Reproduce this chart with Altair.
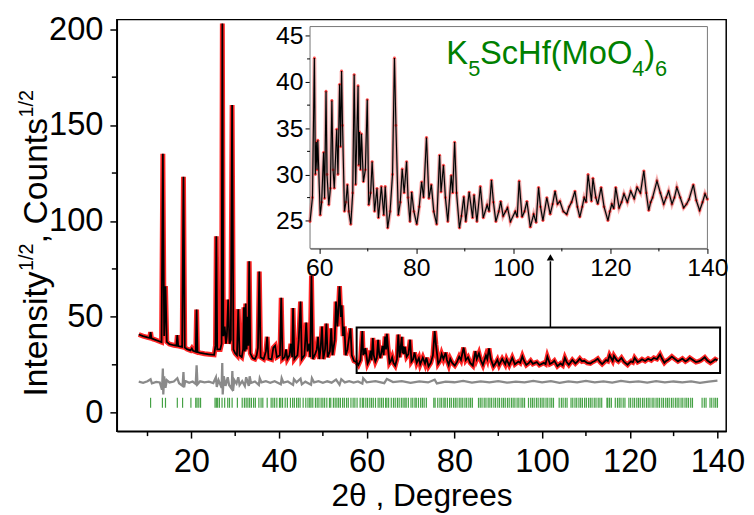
import altair as alt
import pandas as pd

FONT = "Liberation Sans"

# ---- main pattern 8-58 deg (2theta, sqrt intensity)
low_x = [8.0, 9.0, 10.0, 10.5, 10.7, 10.9, 11.5, 12.5, 13.2, 13.5, 13.8, 14.1, 14.4, 15.0, 16.0, 16.6, 16.8, 17.0,
         17.9, 18.2, 18.5, 19.0, 19.8, 20.1, 20.4, 21.0, 21.2, 21.4, 22.0, 23.0, 24.0, 25.2, 25.5, 25.7, 25.9, 26.6,
         26.9, 27.07, 27.3, 27.6, 27.9, 28.1, 28.4, 28.7, 29.0, 29.3, 29.6, 30.0, 30.4, 30.7, 31.0, 31.5, 31.8, 32.0,
         32.2, 32.4, 32.6, 32.8, 33.0, 33.2, 33.45, 34.0, 34.5, 34.9, 35.2, 35.5, 35.8, 36.5, 37.0, 37.3, 37.6, 38.3,
         38.7, 39.1, 39.5, 40.2, 40.5, 40.8, 41.3, 41.6, 41.9, 42.4, 42.7, 43.0, 43.2, 43.5, 44.2, 44.5, 44.9, 45.2,
         45.8, 46.2, 46.5, 46.9, 47.1, 47.4, 47.7, 48.3, 48.6, 48.9, 49.2, 49.5, 49.8, 50.1, 50.5, 50.8, 51.1, 51.6,
         51.9, 52.2, 52.7, 53.0, 53.3, 53.5, 53.8, 54.1, 54.3, 54.6, 54.9, 55.2, 55.6, 55.9, 56.3, 56.6, 57.1, 57.6]
low_y = [40.8, 40.0, 39.3, 39.0, 42.0, 38.8, 38.3, 37.4, 36.8, 135.0, 40.0, 66.0, 37.0, 35.8, 35.2, 35.0, 40.5, 34.8,
         34.3, 123.0, 34.0, 33.2, 32.5, 33.5, 32.3, 31.8, 53.8, 31.6, 31.2, 30.8, 30.5, 30.2, 35.0, 92.0, 33.0, 33.0,
         36.0, 203.0, 40.0, 45.0, 36.0, 40.0, 59.0, 36.0, 38.0, 160.5, 33.0, 31.0, 30.0, 54.0, 30.0, 29.0, 33.0, 55.0,
         32.0, 57.0, 33.0, 50.0, 35.0, 79.0, 31.0, 28.5, 28.0, 30.0, 34.0, 73.6, 29.0, 28.0, 32.0, 39.6, 28.3, 27.8,
         34.0, 35.0, 29.0, 30.0, 60.0, 28.0, 29.0, 33.0, 28.0, 30.0, 36.0, 29.0, 54.6, 28.0, 30.0, 38.0, 58.0, 28.0,
         30.0, 47.0, 32.0, 36.0, 29.0, 71.5, 28.0, 31.0, 33.0, 39.6, 28.0, 34.0, 45.0, 28.0, 33.0, 46.5, 29.0, 32.0,
         44.0, 30.0, 38.0, 58.0, 45.0, 52.0, 66.0, 50.0, 56.0, 40.0, 45.0, 30.0, 33.0, 38.0, 44.0, 30.0, 27.0, 26.5]

# ---- detail 58-140 deg (also shown in the inset), (2theta, sqrt intensity) pairs
hi_pts = [
    (58.1, 24.9), (58.6, 27.5), (59.0, 42.6), (59.2, 30.0), (59.4, 33.5), (59.55, 30.5), (59.7, 33.7), (60.2, 25.6),
    (60.5, 27.0), (60.9, 32.4), (61.1, 27.4), (61.4, 39.0), (61.6, 30.0), (61.97, 26.7), (62.3, 28.5), (62.6, 38.0),
    (62.85, 30.5), (63.1, 28.5), (63.6, 34.9), (63.85, 30.0), (64.2, 39.75), (64.4, 33.0), (64.6, 41.2), (64.8, 35.3),
    (65.2, 26.0), (65.5, 27.0), (65.8, 28.9), (66.1, 26.0), (66.5, 24.6), (66.9, 28.0), (67.2, 40.8), (67.5, 28.9),
    (68.0, 39.6), (68.15, 31.0), (68.3, 34.6), (68.5, 30.5), (68.7, 34.4), (69.1, 29.2), (69.5, 30.5), (69.9, 38.1),
    (70.2, 26.7), (70.6, 28.0), (70.9, 31.4), (71.4, 26.0), (71.9, 28.5), (72.2, 25.3), (72.8, 28.7), (73.3, 25.6),
    (73.6, 28.7), (74.1, 24.2), (74.6, 26.0), (75.1, 30.0), (75.5, 42.6), (75.8, 35.3), (76.3, 25.6), (76.7, 27.0),
    (77.1, 30.6), (77.5, 28.0), (78.0, 31.4), (78.3, 27.5), (78.7, 24.9), (79.05, 28.1), (79.5, 26.0), (80.1, 24.6),
    (80.6, 26.5), (81.1, 29.2), (81.5, 27.5), (82.1, 34.0), (82.6, 27.4), (83.1, 28.9), (83.6, 26.0), (84.2, 24.6),
    (84.8, 32.1), (85.1, 28.1), (85.6, 31.0), (86.0, 27.5), (86.5, 24.9), (87.2, 29.9), (87.5, 28.0), (87.9, 33.5),
    (88.3, 28.0), (88.9, 24.2), (89.3, 25.5), (89.8, 27.6), (90.2, 24.9), (90.9, 28.1), (91.6, 25.3), (91.9, 27.8),
    (92.5, 24.9), (93.2, 28.7), (93.8, 25.3), (94.6, 26.7), (95.0, 26.0), (95.5, 29.4), (95.9, 27.0), (96.4, 24.9),
    (97.0, 26.0), (97.4, 27.1), (97.9, 25.5), (98.4, 26.0), (98.8, 26.4), (99.4, 24.9), (100.4, 26.0), (100.8, 25.4),
    (101.2, 29.3), (101.8, 25.4), (102.3, 26.0), (102.8, 27.1), (103.5, 24.3), (104.2, 25.7), (104.7, 24.8),
    (105.2, 28.6), (105.6, 26.5), (106.1, 25.0), (106.9, 27.5), (107.6, 25.7), (108.1, 26.8), (108.6, 28.2),
    (109.1, 26.8), (109.6, 27.1), (110.3, 26.0), (111.0, 25.7), (111.5, 26.5), (112.0, 27.0), (112.7, 28.2),
    (113.2, 26.5), (113.7, 25.4), (114.2, 26.5), (114.6, 27.5), (115.0, 27.0), (115.4, 30.0), (116.1, 27.1),
    (116.4, 29.6), (117.0, 27.5), (117.4, 26.8), (118.1, 28.6), (118.7, 26.5), (119.5, 25.0), (119.9, 26.0),
    (120.3, 26.8), (120.7, 26.3), (121.1, 28.6), (121.8, 26.4), (122.3, 27.0), (122.8, 27.9), (123.5, 27.0),
    (124.2, 28.2), (124.9, 27.4), (125.5, 28.6), (126.2, 28.0), (126.9, 30.4), (127.4, 28.0), (127.9, 26.1),
    (128.3, 27.0), (128.7, 27.5), (129.6, 29.3), (130.3, 28.0), (131.0, 26.8), (131.5, 27.5), (132.0, 28.2),
    (132.7, 26.8), (133.2, 27.5), (133.7, 28.6), (134.4, 27.5), (135.1, 26.4), (135.7, 26.8), (136.2, 27.3),
    (137.1, 28.9), (137.7, 27.2), (138.4, 26.1), (139.0, 27.0), (139.5, 27.9), (140.0, 27.3)]
hi_x = [p[0] for p in hi_pts]
hi_y = [p[1] for p in hi_pts]

# ---- difference curve
diff_x = [8, 9, 10, 10.7, 11, 12, 12.8, 13.3, 13.5, 13.6, 13.8, 14.1, 14.4, 15, 16, 16.8, 17.2, 18.0, 18.2, 18.35,
          18.6, 19.5, 20.3, 21.0, 21.2, 21.4, 22, 23, 24, 25, 25.6, 25.8, 26.2, 26.9, 27.05, 27.15, 27.4, 27.8,
          28.3, 28.6, 29.2, 29.35, 29.5, 29.8, 30.3, 30.7, 31.0, 31.6, 32.2, 32.5, 33.1, 33.3, 33.6, 34.5, 35.4,
          35.6, 36, 37, 38, 39, 40.4, 40.6, 41, 42, 43.2, 43.4, 44, 44.9, 45.2, 46, 47.3, 47.5, 48, 49, 50, 51, 52,
          53, 53.8, 54.2, 55, 56, 57, 58, 59, 59.2, 60, 62, 64, 64.6, 66, 68, 70, 72, 74, 75.5, 76, 78, 80, 82, 84,
          86, 88, 90, 92, 94, 96, 98, 100, 102, 104, 106, 108, 110, 112, 114, 116, 118, 120, 122, 124, 126, 128,
          130, 132, 134, 136, 138, 140]
diff_y = [16.2, 15.6, 16.4, 17.5, 15.3, 16.1, 15.8, 12.0, 23.0, 9.5, 19.0, 13.0, 17.0, 15.8, 16.3, 18.0, 15.4, 14.0,
          21.2, 13.3, 16.6, 15.6, 16.3, 15.0, 24.7, 14.8, 16.4, 15.8, 16.2, 15.5, 18.5, 13.5, 17.0, 13.0, 25.9, 9.5,
          19.0, 14.0, 18.5, 14.5, 12.5, 21.7, 11.4, 17.0, 15.2, 18.5, 14.5, 16.5, 14.0, 18.5, 14.0, 19.0, 15.5, 16.3,
          14.5, 18.0, 15.8, 16.5, 15.6, 16.4, 14.8, 18.0, 15.7, 16.3, 14.5, 17.5, 15.9, 17.8, 14.8, 16.2, 14.6, 18.0,
          15.8, 16.5, 15.6, 16.4, 15.7, 17.3, 14.6, 17.5, 15.8, 16.5, 15.7, 16.3, 15.2, 18.0, 15.9, 16.5, 15.4, 17.6,
          16.0, 16.5, 15.6, 16.3, 15.8, 17.2, 15.3, 16.2, 15.9, 16.6, 15.7, 16.4, 15.8, 16.5, 15.7, 16.2, 15.8, 16.6,
          15.9, 16.5, 15.6, 16.3, 15.8, 16.6, 15.9, 16.4, 15.7, 16.6, 16.0, 16.4, 15.7, 16.5, 15.8, 16.3, 15.9, 16.4,
          15.6, 16.2, 16.8]

# ---- Bragg reflection positions
bragg_x = [10.7, 13.4, 14.1, 16.8, 18.0, 19.9, 21.0, 21.3, 21.7, 22.1, 25.4, 25.7, 26.0, 26.4, 27.0, 27.6, 28.3,
           28.7, 29.3, 30.5, 31.6, 32.1, 32.5, 32.9, 33.3, 33.7, 34.2, 34.6, 35.4, 35.9, 36.3, 37.3, 38.2, 38.6,
           39.0, 39.5, 40.1, 40.4, 40.8, 41.4, 41.9, 42.6, 43.1, 43.5, 44.0, 44.4, 44.8, 45.5, 46.1, 46.6, 47.0,
           47.3, 47.7, 48.3, 48.7, 49.1, 49.6, 50.0, 50.4, 50.9, 51.5, 51.8, 52.4, 52.8, 53.2, 53.6, 54.0, 54.5,
           54.9, 55.4, 55.8, 56.4, 56.9, 57.3, 57.8, 58.5, 59.0, 59.3, 59.8, 60.2, 60.7, 61.1, 61.5, 62.0, 62.6,
           63.0, 63.4, 63.8, 64.3, 64.6, 65.0, 65.6, 66.1, 66.5, 67.0, 67.4, 67.9, 68.3, 68.7, 69.0, 69.5, 70.1,
           70.5, 71.0, 71.3, 71.8, 72.3, 72.7, 73.1, 73.6, 75.3, 75.6, 76.2, 76.7, 77.1, 77.6, 77.9, 78.4, 78.9,
           79.3, 79.8, 80.2, 80.6, 81.1, 81.5, 81.9, 82.4, 82.8, 83.3, 83.7, 84.1, 85.5, 85.9, 86.3, 86.8, 87.2,
           87.7, 88.1, 88.5, 89.0, 89.4, 89.9, 90.3, 90.8, 91.2, 91.6, 92.1, 92.5, 93.0, 93.4, 93.8, 94.3, 94.7,
           95.2, 95.6, 96.0, 96.9, 97.4, 97.8, 98.2, 98.7, 99.1, 99.6, 100.0, 100.4, 100.9, 101.3, 101.8, 102.2,
           102.6, 103.9, 104.4, 104.8, 105.3, 105.7, 106.6, 107.0, 107.5, 107.9, 108.4, 108.8, 109.2, 109.7,
           110.1, 110.6, 111.0, 111.4, 111.9, 112.3, 112.8, 113.2, 113.6, 114.8, 115.0, 115.4, 115.8, 116.7,
           117.2, 117.6, 118.0, 118.5, 118.9, 119.8, 120.2, 120.7, 121.1, 121.6, 122.0, 122.4, 122.9, 123.3,
           123.8, 124.2, 124.6, 125.1, 125.5, 126.0, 126.4, 126.8, 127.3, 127.7, 128.2, 128.6, 129.0, 129.5,
           129.9, 130.4, 130.8, 131.2, 131.7, 132.1, 132.6, 133.0, 133.4, 133.9, 134.3, 136.5, 137.0, 137.4,
           138.3, 138.7, 139.2, 139.6, 140.0]

main_xticks = [20, 40, 60, 80, 100, 120, 140]
main_xminor = [10, 30, 50, 70, 90, 110, 130]
main_yticks = [0, 50, 100, 150, 200]
main_yminor = [25, 75, 125, 175]
inset_xticks = [60, 80, 100, 120, 140]
inset_xminor = [70, 90, 110, 130]
inset_yticks = [25, 30, 35, 40, 45]
inset_yminor = [27.5, 32.5, 37.5, 42.5]

zoom_box = {"x": 57.7, "x2": 140.6, "y": 20.7, "y2": 44.4}
arrow = {"x": 101.9, "y": 44.4, "y2": 79.0, "head": 81.0}

W, H = 616, 416
IL, IR, IT, IB = 195.3, 597.0, 7.0, 231.3

main_df = pd.DataFrame({"x": low_x + hi_x, "y": low_y + hi_y})
inset_df = pd.DataFrame({"x": hi_x, "y": hi_y})
diff_df = pd.DataFrame({"x": diff_x, "y": diff_y})
bragg_df = pd.DataFrame({"x": bragg_x})
one = pd.DataFrame({"a": [0]})

XS = alt.Scale(domain=[3, 142], nice=False, zero=False)
YS = alt.Scale(domain=[-9.6, 205], nice=False, zero=False)
IXS = alt.Scale(domain=[58.1, 140], range=[IL, IR], nice=False, zero=False)
IYS = alt.Scale(domain=[22, 46], range=[IB, IT], nice=False, zero=False)

common = dict(grid=False, labelFont=FONT, labelColor="black", tickColor="black", domainColor="black")
X_AX = alt.Axis(values=main_xticks, title="2θ , Degrees", titleFont=FONT, titleFontSize=32,
                titleFontWeight="normal", titleColor="black", titlePadding=2, labelFontSize=33,
                labelPadding=8, tickSize=7, tickWidth=1.5, domainWidth=1.5, labelFlush=False, **common)
Y_AX = alt.Axis(values=main_yticks, title=None, labelFontSize=33, labelPadding=7, tickSize=7,
                tickWidth=1.5, domainWidth=1.5, labelFlush=False, **common)
IX_AX = alt.Axis(values=inset_xticks, title=None, orient="bottom", offset=-(H - IB), labelFontSize=25,
                 labelPadding=2, tickSize=5, tickWidth=1, domainWidth=1, labelFlush=False, **common)
IY_AX = alt.Axis(values=inset_yticks, title=None, orient="left", offset=-IL, labelFontSize=25,
                 labelPadding=2, tickSize=5, tickWidth=1, domainWidth=1, labelFlush=False, **common)


def mx(field="x"):
    return alt.X(f"{field}:Q", scale=XS, axis=X_AX)


def my(field="y"):
    return alt.Y(f"{field}:Q", scale=YS, axis=Y_AX)


def ix(field="x"):
    return alt.X(f"{field}:Q", scale=IXS, axis=IX_AX)


def iy(field="y"):
    return alt.Y(f"{field}:Q", scale=IYS, axis=IY_AX)


# ---------------- main panel ----------------
red_band = alt.Chart(main_df).mark_line(color="#ff0000", strokeWidth=5, opacity=0.85).encode(
    x=mx(), y=my(), order="x:Q")
calc = alt.Chart(main_df).mark_line(color="black", strokeWidth=1.8).encode(x=mx(), y=my(), order="x:Q")
diff = alt.Chart(diff_df).mark_line(color="#8a8a8a", strokeWidth=2.3).encode(x=mx(), y=my(), order="x:Q")
bragg = alt.Chart(bragg_df).mark_rule(color="#168a16", strokeWidth=1.2, opacity=0.8).encode(
    x=mx(), y=alt.YDatum(2.6, scale=YS, axis=Y_AX), y2=alt.datum(7.8))

box = alt.Chart(one).mark_rect(fillOpacity=0, stroke="black", strokeWidth=2).encode(
    x=alt.XDatum(zoom_box["x"], scale=XS, axis=X_AX), x2=alt.datum(zoom_box["x2"]),
    y=alt.YDatum(zoom_box["y"], scale=YS, axis=Y_AX), y2=alt.datum(zoom_box["y2"]))
arrow_line = alt.Chart(one).mark_rule(color="black", strokeWidth=1.5).encode(
    x=alt.XDatum(arrow["x"], scale=XS, axis=X_AX),
    y=alt.YDatum(arrow["y"], scale=YS, axis=Y_AX), y2=alt.datum(arrow["y2"]))
arrow_head = alt.Chart(one).mark_point(shape="triangle-up", filled=True, color="black", size=55, opacity=1).encode(
    x=alt.XDatum(arrow["x"], scale=XS, axis=X_AX), y=alt.YDatum(arrow["head"], scale=YS, axis=Y_AX))

xminor = alt.Chart(pd.DataFrame({"x": main_xminor})).mark_rule(color="black", strokeWidth=1.5).encode(
    x=mx(), y=alt.value(H), y2=alt.value(H + 5))
yminor = alt.Chart(pd.DataFrame({"y": main_yminor})).mark_rule(color="black", strokeWidth=1.5).encode(
    y=my(), x=alt.value(0), x2=alt.value(-5))

tstyle = dict(angle=270, align="left", baseline="alphabetic", font=FONT, color="black")
yt1 = alt.Chart(one).mark_text(fontSize=34, **tstyle).encode(
    x=alt.value(-71), y=alt.value(381), text=alt.value("Intensity"))
yt2 = alt.Chart(one).mark_text(fontSize=20, **tstyle).encode(
    x=alt.value(-85), y=alt.value(254), text=alt.value("1/2"))
yt3 = alt.Chart(one).mark_text(fontSize=34, **tstyle).encode(
    x=alt.value(-71), y=alt.value(226), text=alt.value(", Counts"))
yt4 = alt.Chart(one).mark_text(fontSize=20, **tstyle).encode(
    x=alt.value(-85), y=alt.value(99), text=alt.value("1/2"))

main = alt.layer(red_band, calc, diff, bragg, box, arrow_line, arrow_head, xminor, yminor, yt1, yt2, yt3, yt4)

# ---------------- inset ----------------
frame = alt.Chart(one).mark_rect(fill="white", stroke="#777777", strokeWidth=1).encode(
    x=alt.XDatum(58.1, scale=IXS, axis=IX_AX), x2=alt.datum(140),
    y=alt.YDatum(22, scale=IYS, axis=IY_AX), y2=alt.datum(46))
i_band = alt.Chart(inset_df).mark_line(color="#ff2a2a", strokeWidth=4, opacity=0.35).encode(
    x=ix(), y=iy(), order="x:Q")
i_grey = alt.Chart(inset_df).mark_line(color="#808080", strokeWidth=2.2, opacity=0.6).encode(
    x=ix(), y=iy(), order="x:Q")
i_pts = alt.Chart(inset_df).mark_circle(color="#ff2020", size=8, opacity=0.8).encode(x=ix(), y=iy())
i_line = alt.Chart(inset_df).mark_line(color="black", strokeWidth=1.1).encode(x=ix(), y=iy(), order="x:Q")
i_xminor = alt.Chart(pd.DataFrame({"x": inset_xminor})).mark_rule(color="black", strokeWidth=1).encode(
    x=ix(), y=alt.value(IB), y2=alt.value(IB + 3))
i_yminor = alt.Chart(pd.DataFrame({"y": inset_yminor})).mark_rule(color="black", strokeWidth=1).encode(
    y=iy(), x=alt.value(IL), x2=alt.value(IL - 3))

green = "#008000"
fx = alt.XDatum(86.2, scale=IXS, axis=IX_AX)
fy = alt.YDatum(41.96, scale=IYS, axis=IY_AX)
pieces = [("K", 0, 0, 33), ("5", 22, 12, 22), ("ScHf(MoO", 34, 0, 33), ("4", 188, 12, 22),
          (")", 200, 0, 33), ("6", 211, 12, 22)]
formula = [alt.Chart(one).mark_text(align="left", baseline="alphabetic", font=FONT, color=green,
                                    fontSize=fs, dx=dx, dy=dy).encode(x=fx, y=fy, text=alt.value(t))
           for t, dx, dy, fs in pieces]

inset = alt.layer(frame, i_band, i_grey, i_pts, i_line, i_xminor, i_yminor, *formula)

chart = alt.layer(main, inset).resolve_scale(x="independent", y="independent").properties(
    width=W, height=H, autosize="none",
    padding={"left": 110, "top": 9, "right": 20, "bottom": 82},
).configure(font=FONT).configure_view(stroke="black", strokeWidth=1.5)

chart.save("out.html", embed_options={"renderer": "svg", "actions": False})
